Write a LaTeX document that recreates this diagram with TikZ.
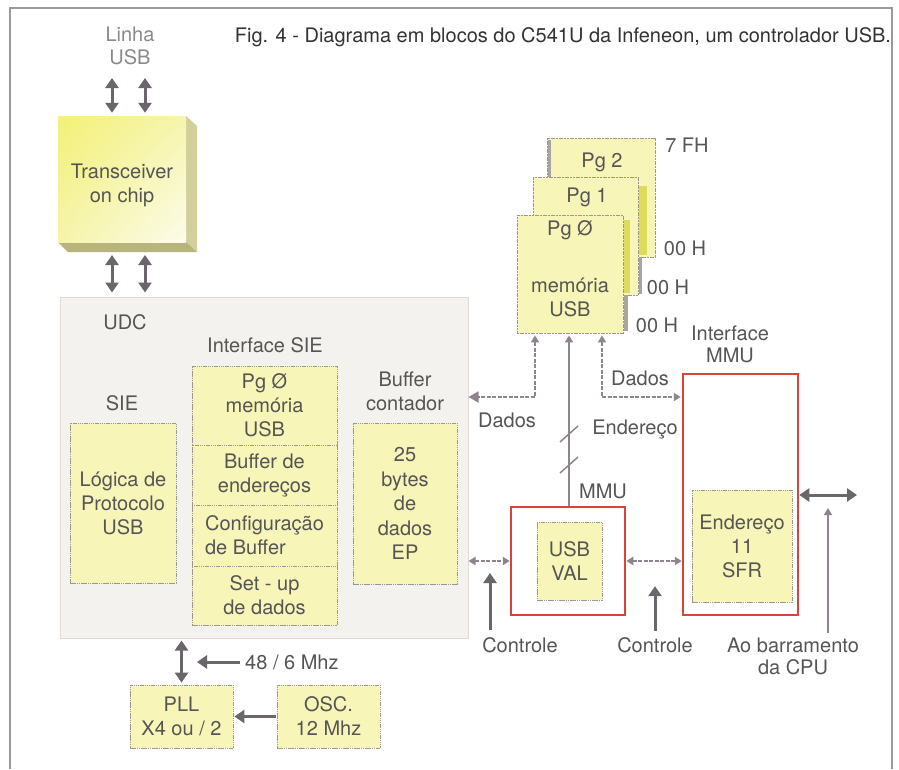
\documentclass[tikz,border=0pt]{standalone}
\usepackage{fontspec}
\setmainfont{TeX Gyre Heros}
\usetikzlibrary{arrows.meta,calc,shadings}
\newcommand{\lblfont}{\fontsize{20}{24}\selectfont}
\newcommand{\lblfonttight}{\fontsize{20}{22.5}\selectfont}
\definecolor{yfill}{HTML}{F7F5B8}
\definecolor{boxline}{HTML}{9C968E}
\definecolor{txt}{HTML}{555555}
\definecolor{lighttxt}{HTML}{8A8A8A}
\definecolor{titletxt}{HTML}{333333}
\definecolor{arr}{HTML}{6A666B}
\definecolor{thinc}{HTML}{8E8490}
\definecolor{red1}{HTML}{D9443A}
\definecolor{udcfill}{HTML}{F3F2EF}
\definecolor{udcline}{HTML}{E3D8D6}
\definecolor{shadowy}{HTML}{DCDB5C}
\definecolor{shadowg}{HTML}{A8A4A0}
\definecolor{framec}{HTML}{9A9A9A}
\definecolor{bevR}{HTML}{D2D09A}
\definecolor{bevB}{HTML}{B7B57C}
\definecolor{trxUL}{HTML}{F3F176}
\definecolor{trxUR}{HTML}{F6F5AF}
\definecolor{trxLL}{HTML}{F5F4AA}
\definecolor{trxLR}{HTML}{FCFCEB}
\tikzset{
 smt/.tip={Triangle[length=7pt,width=8pt]},
 bgt/.tip={Triangle[length=10pt,width=13pt]},
 mdt/.tip={Triangle[length=10pt,width=11pt]},
 lbl/.style={text=txt, font=\lblfont, align=center, inner sep=0pt},
 ybox/.style={draw=boxline, line width=0.8pt, dash pattern=on 1.5pt off 0.7pt, fill=yfill, inner sep=0pt, text=txt, font=\lblfont, align=center},
 pgbox/.style={draw=boxline, line width=0.9pt, dash pattern=on 2pt off 0.7pt, fill=yfill, inner sep=0pt},
 redbox/.style={draw=red1, line width=2.5pt, fill=white, inner sep=0pt},
 big2/.style={draw=arr, line width=3pt, bgt-bgt},
 big1/.style={draw=arr, line width=3pt, -bgt},
 thinline/.style={draw=thinc, line width=1.8pt},
 thindash/.style={draw=thinc, line width=1.8pt, dash pattern=on 4pt off 1.5pt},
}
\begin{document}
\begin{tikzpicture}[x=1pt,y=-1pt]
\useasboundingbox[fill=white] (0,0) rectangle (899,769);
% frame
\draw[framec, line width=1.2pt] (10,769) -- (10,8) -- (892,8) -- (892,769);

% title and Linha USB
\node[lbl, text=titletxt] (title) at (563,37) {Fig. 4 - Diagrama em blocos do C541U da Infeneon, um controlador USB.};
\node[lbl, text=lighttxt, font=\lblfonttight] (linha) at (130,46) {Linha\\USB};

% transceiver with bevel
\fill[bevR] (186,116) -- (197,126) -- (197,252) -- (186,242) -- cycle;
\fill[bevB] (58,242) -- (186,242) -- (197,252) -- (68,252) -- cycle;
\shade[upper left=trxUL, upper right=trxUR, lower left=trxLL, lower right=trxLR] (58,116) rectangle (186,242);
\node[inner sep=0pt, minimum width=128pt, minimum height=126pt] (trx) at (122,179) {};
\node[lbl] (trxt) at (122,185) {Transceiver\\on chip};
\coordinate (trxbot) at (122,252);

% UDC block
\node[draw=udcline, fill=udcfill, line width=1pt, minimum width=408pt, minimum height=341pt, inner sep=0pt] (udc) at (264,467.5) {};
\node[lbl] (udct) at (125,322) {UDC};
\node[lbl] (isiet) at (265,345) {Interface SIE};
\node[lbl] (siet) at (122,403) {SIE};
\node[ybox, minimum width=106pt, minimum height=160pt] (sie) at (123,503) {Lógica de\\Protocolo\\USB};
\node[ybox, minimum width=145pt, minimum height=79pt] (s1) at (264.5,405.5) {Pg Ø\\memória\\USB};
\node[ybox, minimum width=145pt, minimum height=60pt] (s2) at (264.5,475) {Buffer de\\endereços};
\node[ybox, minimum width=145pt, minimum height=61pt, align=left] (s3) at (264.5,535.5) {Configuração\\de Buffer};
\node[ybox, minimum width=145pt, minimum height=59pt] (s4) at (264.5,595.5) {Set - up\\de dados};
\node[lbl] (buft) at (405,391.5) {Buffer\\contador};
\node[ybox, minimum width=104pt, minimum height=161pt, font=\fontsize{20}{24.5}\selectfont] (buf) at (405,503.5) {25\\bytes\\de\\dados\\EP};

% memory pages
\node[pgbox, minimum width=108pt, minimum height=119pt] (pg2) at (601,197.5) {};
\fill[shadowg] (547.5,140) rectangle (550.5,177);
\fill[shadowy] (639,186) rectangle (647,255);
\fill[shadowg] (639,257) rectangle (642,294);
\node[pgbox, minimum width=105pt, minimum height=118pt] (pg1) at (585.5,236) {};
\fill[shadowy] (624,220) rectangle (630,293);
\fill[shadowg] (624,295) rectangle (628,331);
\node[pgbox, minimum width=106pt, minimum height=118pt] (pg0) at (570,274) {};
\node[lbl] (pg2t) at (602,162) {Pg 2};
\node[lbl] (pg1t) at (587,197) {Pg 1};
\node[lbl] (pg0t) at (570,230) {Pg Ø};
\node[lbl] (pg0m) at (570,297.5) {memória\\USB};
\node[lbl] (h7f) at (687,145) {7 FH};
\node[lbl] (h2) at (685,248) {00 H};
\node[lbl] (h1) at (668,287) {00 H};
\node[lbl] (h0) at (657,325) {00 H};

% MMU and USB VAL
\node[lbl, font=\lblfonttight] (immut) at (730,344.5) {Interface\\MMU};
\node[redbox, minimum width=115pt, minimum height=241pt] (mmu) at (740.5,494.5) {};
\node[ybox, minimum width=100pt, minimum height=112pt] (sfr) at (742,546) {Endereço\\11\\SFR};
\node[redbox, minimum width=114pt, minimum height=108pt] (val) at (568,561) {};
\node[ybox, minimum width=65pt, minimum height=78pt] (vali) at (569.5,561) {USB\\VAL};

% labels of connectors
\node[lbl] (dadosl) at (507,420) {Dados};
\node[lbl] (dadosr) at (640,378) {Dados};
\node[lbl] (endt) at (635,430) {Endereço};
\node[lbl] (mmut) at (603,491) {MMU};
\node[lbl] (ctl1) at (520,645) {Controle};
\node[lbl] (ctl2) at (655,645) {Controle};
\node[lbl, font=\lblfonttight] (aob) at (793,656.5) {Ao barramento\\da CPU};

% Linha USB arrows
\coordinate (la) at (112,78);
\coordinate (lb) at (145,78);
\draw[big2, shorten >=3pt] (la) -- (la |- trx.north);
\draw[big2, shorten >=3pt] (lb) -- (lb |- trx.north);
\draw[big2, shorten <=3pt, shorten >=4pt] (la |- trxbot) -- (la |- udc.north);
\draw[big2, shorten <=3pt, shorten >=4pt] (lb |- trxbot) -- (lb |- udc.north);

% connectors from memory pages
\coordinate (pa) at (535,397);
\coordinate (pb) at (569,397);
\coordinate (pc) at (602,397);
\draw[thindash, smt-mdt, shorten <=2pt] (pa |- pg0.south) -- (pa) -- (pa -| udc.east);
\draw[thinline, smt-, shorten <=2pt] (pb |- pg0.south) -- (pb |- val.north);
\draw[thindash, smt-smt, shorten <=2pt, shorten >=1pt] (pc |- pg0.south) -- (pc) -- (pc -| mmu.west);
% bus slashes
\coordinate (sl1) at (569,434);
\coordinate (sl2) at (569,465);
\draw[thinline, line width=1.5pt] ($(sl1)+(-9,8)$) -- ($(sl1)+(9,-8)$);
\draw[thinline, line width=1.5pt] ($(sl2)+(-9,8)$) -- ($(sl2)+(9,-8)$);

% horizontal control connectors
\draw[thindash, smt-smt] (val.west -| udc.east) -- (val.west);
\draw[thindash, smt-smt] (val.east) -- (val.east -| mmu.west);
\coordinate (cpu) at (857,495);
\draw[big2] (cpu -| mmu.east) -- (cpu);

% control arrows
\coordinate (c1) at (490,630);
\draw[big1] (c1) -- ++(0,-57);
\draw[big1, shorten <=6pt] (ctl2.north) -- ++(0,-51);
\coordinate (c3) at (828,633);
\draw[thinline, -smt] (c3) -- ++(0,-125);

% clock section
\node[ybox, minimum width=103pt, minimum height=63pt] (pll) at (181.5,716.5) {PLL\\X4 ou / 2};
\node[ybox, minimum width=103pt, minimum height=63pt] (osc) at (328.5,716.5) {OSC.\\12 Mhz};
\node[lbl, anchor=west] (f48) at (245,662) {48 / 6 Mhz};
\draw[big2, shorten <=2pt, shorten >=2pt] (pll.north) -- (pll.north |- udc.south);
\draw[big1, shorten <=5pt] (f48.west) -- ++(-48,0);
\draw[big1, shorten <=1pt, shorten >=1pt] (osc.west) -- (pll.east);
\end{tikzpicture}
\end{document}
